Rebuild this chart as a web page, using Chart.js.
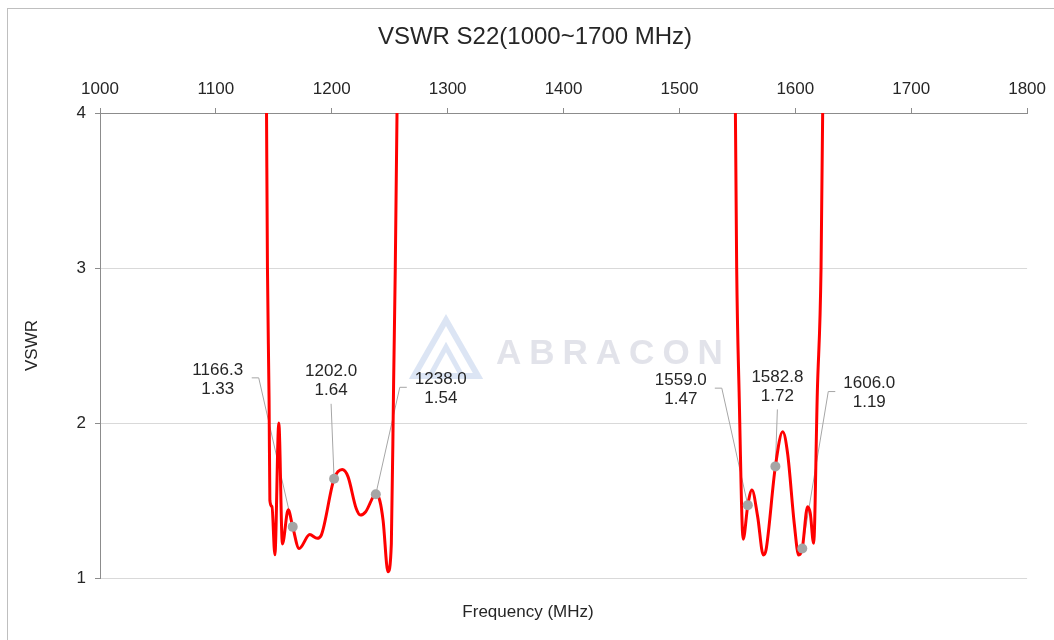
<!DOCTYPE html>
<html>
<head>
<meta charset="utf-8">
<script src="https://cdn.jsdelivr.net/npm/chart.js@4"></script>
<style>
  html, body { margin: 0; padding: 0; background: #fff; }
  canvas { display: block; }
</style>
</head>
<body>
<canvas id="vswrChart" width="1054" height="640"></canvas>
<script>
const freq = [1142.9, 1143.7, 1144.5, 1145.9, 1146.6, 1148.4, 1150.9, 1154.3, 1157.4, 1162.4,
    1166.3, 1171.8, 1181.0, 1187.4, 1191.0, 1202.0, 1209.0, 1214.0, 1221.0, 1224.7,
    1229.3, 1238.0, 1241.4, 1244.3, 1248.5, 1251.4, 1253.4, 1254.8, 1256.3, 1257.5,
    1400.0,
    1547.5, 1548.3, 1549.4, 1551.5, 1555.0, 1559.0, 1562.6, 1567.5, 1572.4, 1574.7,
    1582.8, 1589.1, 1593.4, 1599.1, 1602.9, 1606.0, 1610.6, 1612.9, 1615.8, 1619.0,
    1622.2, 1623.6, 1624.5];
const vswr = [5, 4, 3, 2.15, 1.50, 1.46, 1.15, 2.00, 1.22, 1.44,
    1.33, 1.19, 1.28, 1.256, 1.277, 1.64, 1.70, 1.654, 1.45, 1.406,
    1.428, 1.54, 1.50, 1.37, 1.04, 1.22, 2.28, 3, 4, 5,
    12,
    5, 4, 3, 2.2, 1.25, 1.47, 1.568, 1.396, 1.148, 1.18,
    1.72, 1.944, 1.80, 1.35, 1.148, 1.19, 1.46, 1.417, 1.224, 2.2,
    3, 4, 5];

// marker points
const markerFreq = [1166.3, 1202.0, 1238.0, 1559.0, 1582.8, 1606.0];
const markerVswr = [1.33, 1.64, 1.54, 1.47, 1.72, 1.19];

const xTicks = [1000, 1100, 1200, 1300, 1400, 1500, 1600, 1700, 1800];
const yTicks = [1, 2, 3, 4];

// where each data label sits, in px from its marker
const labelOffsets = [[-75, -148], [-3, -98], [65, -106], [-67, -116], [2, -80], [67, -156]];

const FONT = "'Liberation Sans', Arial, sans-serif";

const decorPlugin = {
    id: 'decor',
    beforeDraw(chart) {
        const ctx = chart.ctx;
        ctx.save();
        ctx.strokeStyle = '#BFBFBF';
        ctx.lineWidth = 1;
        ctx.strokeRect(7.5, 8.5, 1200, 800);
        ctx.restore();
    },
    beforeDatasetsDraw(chart) {
        const ctx = chart.ctx;
        ctx.save();
        // watermark
        ctx.strokeStyle = 'rgba(205, 218, 240, 0.7)';
        ctx.lineJoin = 'miter';
        ctx.lineWidth = 6;
        ctx.beginPath();
        ctx.moveTo(414, 376); ctx.lineTo(446, 320); ctx.lineTo(478, 376); ctx.closePath();
        ctx.stroke();
        ctx.lineWidth = 5;
        ctx.beginPath();
        ctx.moveTo(430, 376); ctx.lineTo(446, 347); ctx.lineTo(462, 376);
        ctx.stroke();
        ctx.fillStyle = 'rgba(224, 226, 233, 0.95)';
        ctx.font = 'bold 35px ' + FONT;
        ctx.letterSpacing = '8px';
        ctx.textAlign = 'left';
        ctx.textBaseline = 'alphabetic';
        ctx.fillText('ABRACON', 496, 364);
        ctx.letterSpacing = '0px';

        // leader lines
        const xs = chart.scales.x, ys = chart.scales.y;
        ctx.strokeStyle = '#A6A6A6';
        ctx.lineWidth = 1;
        markerFreq.forEach((f, i) => {
            const px = xs.getPixelForValue(f);
            const py = ys.getPixelForValue(markerVswr[i]);
            const [dx, dy] = labelOffsets[i];
            const lx = px + dx, ly = py + dy;
            ctx.beginPath();
            if (Math.abs(dx) > 20) {
                const side = dx < 0 ? 1 : -1;
                const x0 = lx + side * 34;
                const x1 = x0 + side * 7;
                ctx.moveTo(x0, ly - 1);
                ctx.lineTo(x1, ly - 1);
                ctx.lineTo(px, py);
            } else {
                ctx.moveTo(lx, ly + 23);
                ctx.lineTo(px, py);
            }
            ctx.stroke();
        });
        ctx.restore();
    },
    afterDraw(chart) {
        const ctx = chart.ctx;
        const xs = chart.scales.x, ys = chart.scales.y;
        ctx.save();
        ctx.fillStyle = '#262626';
        ctx.textAlign = 'center';
        ctx.textBaseline = 'middle';
        ctx.font = '24px ' + FONT;
        ctx.fillText('VSWR S22(1000~1700 MHz)', 535, 37);
        ctx.font = '17px ' + FONT;
        ctx.fillText('Frequency (MHz)', 528, 612);

        markerFreq.forEach((f, i) => {
            const px = xs.getPixelForValue(f);
            const py = ys.getPixelForValue(markerVswr[i]);
            const [dx, dy] = labelOffsets[i];
            ctx.fillText(f.toFixed(1), px + dx, py + dy - 9);
            ctx.fillText(markerVswr[i].toFixed(2), px + dx, py + dy + 10);
        });
        ctx.restore();
    }
};

Chart.defaults.font.family = FONT;
Chart.defaults.color = '#262626';

new Chart(document.getElementById('vswrChart').getContext('2d'), {
    type: 'scatter',
    data: {
        datasets: [{
            label: 'Markers',
            data: markerFreq.map((f, i) => ({ x: f, y: markerVswr[i] })),
            showLine: false,
            pointRadius: 5,
            pointHoverRadius: 5,
            pointBackgroundColor: '#A5A5A5',
            pointBorderWidth: 0
        }, {
            label: 'S22',
            data: freq.map((f, i) => ({ x: f, y: vswr[i] })),
            showLine: true,
            borderColor: '#FF0000',
            borderWidth: 3,
            pointRadius: 0,
            cubicInterpolationMode: 'monotone'
        }]
    },
    options: {
        responsive: false,
        animation: false,
        layout: { padding: { left: 0, right: 26, top: 0, bottom: 62 } },
        plugins: { legend: { display: false }, tooltip: { enabled: false } },
        scales: {
            x: {
                type: 'linear',
                position: 'top',
                min: xTicks[0],
                max: xTicks[xTicks.length - 1],
                afterBuildTicks: s => { s.ticks = xTicks.map(v => ({ value: v })); },
                ticks: { font: { size: 17 }, padding: 8, maxRotation: 0, callback: v => String(v) },
                grid: { drawOnChartArea: false, tickLength: 5, color: '#8C8C8C' },
                border: { color: '#8C8C8C' },
                afterFit: s => { s.height = 113; }
            },
            y: {
                min: yTicks[0],
                max: yTicks[yTicks.length - 1],
                afterBuildTicks: s => { s.ticks = yTicks.map(v => ({ value: v })); },
                ticks: { font: { size: 17 }, padding: 9 },
                grid: { color: '#D9D9D9', tickColor: '#8C8C8C', tickLength: 5 },
                border: { color: '#8C8C8C' },
                title: { display: true, text: 'VSWR', font: { size: 17 }, padding: { top: 22, bottom: 0 } },
                afterFit: s => { s.width = 100; }
            }
        }
    },
    plugins: [decorPlugin]
});
</script>
</body>
</html>
